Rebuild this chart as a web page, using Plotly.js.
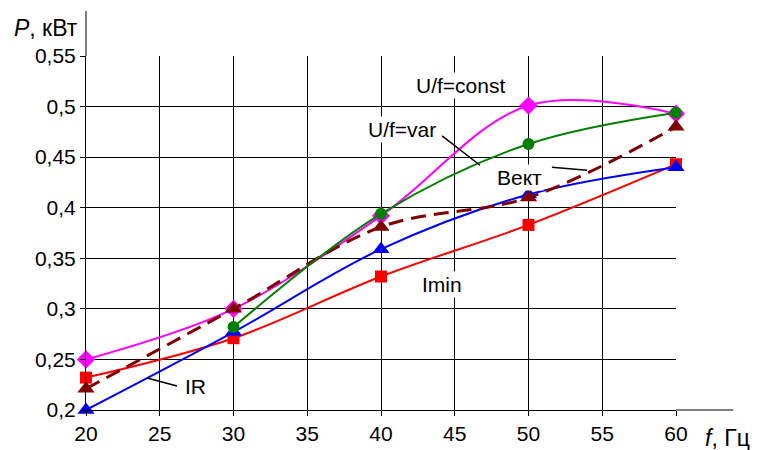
<!DOCTYPE html>
<html>
<head>
<meta charset="utf-8">
<script src="https://cdn.plot.ly/plotly-3.0.1.min.js"></script>
<style>html,body{margin:0;padding:0;background:#fff}#chart{width:765px;height:450px}</style>
</head>
<body>
<div id="chart"></div>
<script>
const freq = [20, 30, 40, 50, 60];
const freqVar = [30, 40, 50, 60];
const pConst = [0.250, 0.300, 0.392, 0.501, 0.493];
const pVar = [0.282, 0.394, 0.463, 0.494];
const pIR = [0.200, 0.277, 0.359, 0.413, 0.440];
const pImin = [0.232, 0.271, 0.332, 0.383, 0.443];
const pVekt = [0.221, 0.300, 0.381, 0.410, 0.480];
const xTickVals = [20, 25, 30, 35, 40, 45, 50, 55, 60];
const xTickText = ['20', '25', '30', '35', '40', '45', '50', '55', '60'];
const yTickVals = [0.2, 0.25, 0.3, 0.35, 0.4, 0.45, 0.5, 0.55];
const yTickText = ['0,2', '0,25', '0,3', '0,35', '0,4', '0,45', '0,5', '0,55'];

const FONT = 'Liberation Sans, Arial, sans-serif';
function tr(x, y, color, symbol, dash, width, msize) {
  return {x: x, y: y, type: 'scatter', mode: 'lines+markers',
    line: {color: color, width: width, shape: 'spline', smoothing: 1, dash: dash},
    marker: {color: color, symbol: symbol, size: msize}, cliponaxis: false};
}
const data = [
  tr(freq, pImin, '#FF0000', 'square', 'solid', 2, 12),
  tr(freq, pIR, '#0000FF', 'triangle-up', 'solid', 2, 15),
  tr(freq, pConst, '#FF00FF', 'diamond', 'solid', 2, 14),
  tr(freq, pVekt, '#800000', 'triangle-up', '15px,8px', 3, 15),
  tr(freqVar, pVar, '#008000', 'circle', 'solid', 2, 12)
];
function lab(text, x, y) {
  return {text: text, x: x, y: y, xref: 'x', yref: 'y', showarrow: false,
    bgcolor: '#fff', font: {family: FONT, size: 21, color: '#000'}, borderpad: 1};
}
const layout = {
  width: 765, height: 450,
  margin: {l: 86, r: 89, t: 56, b: 40},
  paper_bgcolor: '#fff', plot_bgcolor: '#fff',
  showlegend: false,
  font: {family: FONT, size: 21, color: '#000'},
  xaxis: {range: [20, 60], tickvals: xTickVals, ticktext: xTickText,
    showgrid: true, gridcolor: '#000', gridwidth: 1, zeroline: false,
    showline: true, linecolor: '#000', linewidth: 1,
    ticks: 'outside', ticklen: 5, tickcolor: '#000', tickfont: {family: FONT, size: 21}},
  yaxis: {range: [0.2, 0.55], tickvals: yTickVals, ticktext: yTickText,
    showgrid: true, gridcolor: '#000', gridwidth: 1, zeroline: false,
    showline: true, linecolor: '#000', linewidth: 1,
    ticks: 'outside', ticklen: 5, tickcolor: '#000', tickfont: {family: FONT, size: 21}},
  shapes: [
    {type: 'line', xref: 'paper', yref: 'paper', x0: 1, x1: 1.097, y0: 0, y1: 0, line: {color: '#000', width: 1}},
    {type: 'line', xref: 'paper', yref: 'paper', x0: 0, x1: 0, y0: 1, y1: 1.127, line: {color: '#000', width: 1}},
    {type: 'line', xref: 'x', yref: 'y', x0: 44.14, y0: 0.471, x1: 46.71, y1: 0.442, line: {color: '#000', width: 1.5}},
    {type: 'line', xref: 'x', yref: 'y', x0: 51.59, y0: 0.440, x1: 53.97, y1: 0.437, line: {color: '#000', width: 1.5}},
    {type: 'line', xref: 'x', yref: 'y', x0: 24.14, y0: 0.2316, x1: 26.17, y1: 0.2237, line: {color: '#000', width: 1.5}}
  ],
  annotations: [
    lab('U/f=const', 45.36, 0.521),
    lab('U/f=var', 41.42, 0.477),
    lab('Вект', 49.42, 0.430),
    lab('Imin', 44.14, 0.3236),
    lab('IR', 27.39, 0.2237),
    {text: '<i>P</i>, кВт', xref: 'paper', yref: 'paper', x: -0.01, y: 1.08, xanchor: 'right', yanchor: 'middle',
      showarrow: false, font: {family: FONT, size: 23}},
    {text: '<i>f</i>, Гц', xref: 'paper', yref: 'paper', x: 1.045, y: -0.08, xanchor: 'left', yanchor: 'middle',
      showarrow: false, font: {family: FONT, size: 23}}
  ]
};
Plotly.newPlot('chart', data, layout, {displayModeBar: false, staticPlot: true});
</script>
</body>
</html>
